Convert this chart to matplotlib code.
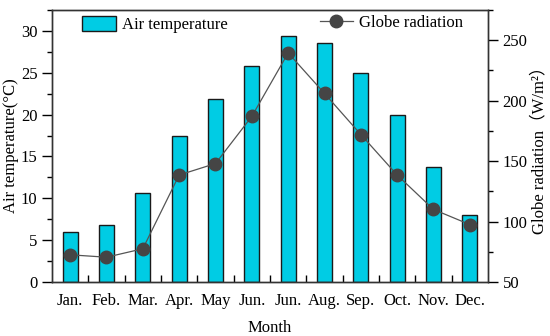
import matplotlib
matplotlib.use("Agg")
import matplotlib.pyplot as plt
import numpy as np
from matplotlib.ticker import MultipleLocator, FixedLocator

months = ["Jan.", "Feb.", "Mar.", "Apr.", "May", "Jun.", "Jun.",
          "Aug.", "Sep.", "Oct.", "Nov.", "Dec."]
air_temp = [6.0, 6.8, 10.6, 17.4, 21.9, 25.8, 29.4, 28.6, 25.0, 20.0, 13.7, 8.0]
globe_rad = [72.5, 70.5, 77.5, 138.5, 148, 187, 239.5, 206, 172, 138.5, 110, 97.5]

plt.rcParams['font.family'] = ['Liberation Serif', 'Noto Sans CJK SC']
plt.rcParams['font.size'] = 12

fig = plt.figure(figsize=(5.5, 3.36), dpi=100)
ax = fig.add_axes([52 / 550, 1 - 282 / 336, 436 / 550, 272 / 336])
ax2 = ax.twinx()

x = np.arange(len(months))
bars = ax.bar(x, air_temp, width=0.41, color="#00CCE4", edgecolor="#1a1a1a",
              linewidth=1.0, label="Air temperature", zorder=2)
line, = ax2.plot(x, globe_rad, color="#555555", linewidth=0.9, marker="o",
                 markersize=9, markerfacecolor="#454545",
                 markeredgecolor="#454545", label="Globe radiation")

ax.set_xlim(-0.5, 11.5)
ax.set_ylim(0, 32.5)
ax2.set_ylim(50, 275)

ax.set_xticks(x)
ax.set_xticklabels(months)
ax.xaxis.set_minor_locator(FixedLocator(x[:-1] + 0.5))
ax.tick_params(axis="x", which="major", direction="in", length=9, width=1, pad=8)
ax.tick_params(axis="x", which="minor", direction="in", length=5, width=1)

ax.set_yticks(np.arange(0, 31, 5))
ax.yaxis.set_minor_locator(MultipleLocator(2.5))
ax.tick_params(axis="y", which="major", direction="out", length=7, width=1)
ax.tick_params(axis="y", which="minor", direction="out", length=3.5, width=1)

ax2.set_yticks(np.arange(50, 251, 50))
ax2.yaxis.set_minor_locator(MultipleLocator(25))
ax2.tick_params(axis="y", which="major", direction="out", length=7, width=1)
ax2.tick_params(axis="y", which="minor", direction="out", length=3.5, width=1)

for a in (ax, ax2):
    for s in a.spines.values():
        s.set_linewidth(1.0)
        s.set_color("#333333")

ax.set_xlabel("Month", labelpad=8)
ax.set_ylabel("Air temperature(°C)", labelpad=1)
ax2.set_ylabel("Globe radiation（W/m²）", labelpad=3)

ax.legend(handles=[bars], loc="upper left", frameon=False,
          bbox_to_anchor=(0.047, 1.015), handlelength=2.0, handleheight=1.0,
          handletextpad=0.35, borderaxespad=0.2, fontsize=12)
ax2.legend(handles=[line], loc="upper right", frameon=False,
           bbox_to_anchor=(0.965, 1.02), handlelength=2.0, handletextpad=0.35,
           borderaxespad=0.2, fontsize=12)

fig.savefig("out.png", dpi=100)
